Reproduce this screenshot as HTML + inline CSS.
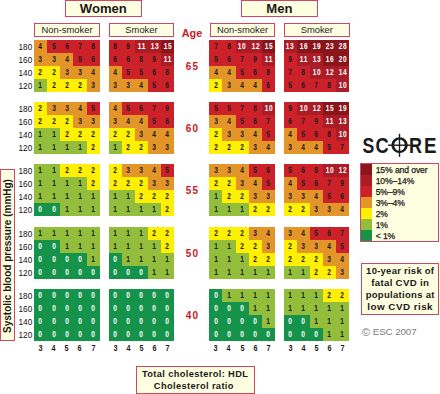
<!DOCTYPE html>
<html><head><meta charset="utf-8"><style>
*{margin:0;padding:0;box-sizing:border-box}
html,body{width:440px;height:394px;overflow:hidden;background:#fff}
body{position:relative;font-family:"Liberation Sans",sans-serif;color:#1a1a1a}
.box{position:absolute;border:1.4px solid #d0466a;background:#fefee0;text-align:center;white-space:nowrap}
.g{position:absolute;width:65.3px;height:52px}
.g i{position:absolute;width:13.06px;height:13px;font-style:normal;font-weight:bold;font-size:8.2px;padding-right:0;line-height:14.4px;text-align:center;color:#1a1a1a}
.g b{display:inline-block;transform:scaleX(0.8);letter-spacing:0.8px;padding-left:0.8px}
.g i.w{padding-right:0}
i.c0,i.c10,i.c15{color:#fff}
.c0{background:#15934a;}
.c1{background:#92be3c;}
.c2{background:#fef000;}
.c3{background:#e39529;}
.c5{background:#cc2129;}
.c10{background:#aa1d26;}
.c15{background:#8a161c;}
.age{position:absolute;left:174px;width:36px;text-align:center;color:#cc1824;font-weight:bold;font-size:10px;letter-spacing:1.2px;padding-left:1.2px;line-height:13px}
.rl{position:absolute;left:12px;width:20.5px;text-align:right;font-size:8.2px;letter-spacing:0.15px;line-height:13px;color:#111}
.xl{position:absolute;top:343.4px;width:13.06px;text-align:center;font-weight:bold;font-size:8.8px;line-height:10px;color:#1c1c1c;transform:scaleX(0.82)}
.hd{font-weight:bold;font-size:13.1px;line-height:14.5px;padding-top:0.8px}
.sh{font-size:9.4px;line-height:11.8px;color:#222}
.lg{position:absolute;left:360px;top:163px;width:78.5px;height:78.5px}
.lg .sw{position:absolute;left:-0.4px;width:11.1px;height:10.95px;margin-top:-0.5px}
.lg .t{position:absolute;left:14.7px;margin-top:0.6px;font-size:8.6px;letter-spacing:-0.1px;font-weight:normal;color:#1a1a1a;-webkit-text-stroke:0.25px #1a1a1a;line-height:10.95px;text-align:left;white-space:nowrap}
</style></head><body>
<div class="box hd" style="left:64.5px;top:0px;width:77.7px;height:16.8px">Women</div>
<div class="box hd" style="left:240.5px;top:0px;width:77.7px;height:16.8px">Men</div>
<div class="box sh" style="left:34px;top:22.9px;width:66px;height:14px">Non-smoker</div>
<div class="box sh" style="left:108.7px;top:22.9px;width:65.6px;height:14px">Smoker</div>
<div class="box sh" style="left:209.6px;top:22.9px;width:65.8px;height:14px">Non-smoker</div>
<div class="box sh" style="left:283.8px;top:22.9px;width:66px;height:14px">Smoker</div>
<div class="age" style="top:26.5px;font-size:10.9px;letter-spacing:0;padding-left:0">Age</div>
<div class="g" style="left:33.9px;top:39.8px;width:65.9px">
<i class="c3" style="left:0.00px;top:0.00px;width:13.20px"><b>4</b></i>
<i class="c5" style="left:13.18px;top:0.00px;width:13.20px"><b>5</b></i>
<i class="c5" style="left:26.36px;top:0.00px;width:13.20px"><b>6</b></i>
<i class="c5" style="left:39.54px;top:0.00px;width:13.20px"><b>7</b></i>
<i class="c5" style="left:52.72px;top:0.00px;width:13.20px"><b>8</b></i>
<i class="c3" style="left:0.00px;top:13.00px;width:13.20px"><b>3</b></i>
<i class="c3" style="left:13.18px;top:13.00px;width:13.20px"><b>3</b></i>
<i class="c3" style="left:26.36px;top:13.00px;width:13.20px"><b>4</b></i>
<i class="c5" style="left:39.54px;top:13.00px;width:13.20px"><b>5</b></i>
<i class="c5" style="left:52.72px;top:13.00px;width:13.20px"><b>6</b></i>
<i class="c2" style="left:0.00px;top:26.00px;width:13.20px"><b>2</b></i>
<i class="c2" style="left:13.18px;top:26.00px;width:13.20px"><b>2</b></i>
<i class="c3" style="left:26.36px;top:26.00px;width:13.20px"><b>3</b></i>
<i class="c3" style="left:39.54px;top:26.00px;width:13.20px"><b>3</b></i>
<i class="c3" style="left:52.72px;top:26.00px;width:13.20px"><b>4</b></i>
<i class="c1" style="left:0.00px;top:39.00px;width:13.20px"><b>1</b></i>
<i class="c2" style="left:13.18px;top:39.00px;width:13.20px"><b>2</b></i>
<i class="c2" style="left:26.36px;top:39.00px;width:13.20px"><b>2</b></i>
<i class="c2" style="left:39.54px;top:39.00px;width:13.20px"><b>2</b></i>
<i class="c3" style="left:52.72px;top:39.00px;width:13.20px"><b>3</b></i>
</div>
<div class="g" style="left:108.6px;top:39.8px;width:65.5px">
<i class="c5" style="left:0.00px;top:0.00px;width:13.12px"><b>8</b></i>
<i class="c5" style="left:13.10px;top:0.00px;width:13.12px"><b>9</b></i>
<i class="c10 w" style="left:26.20px;top:0.00px;width:13.12px"><b>11</b></i>
<i class="c10 w" style="left:39.30px;top:0.00px;width:13.12px"><b>13</b></i>
<i class="c15 w" style="left:52.40px;top:0.00px;width:13.12px"><b>15</b></i>
<i class="c5" style="left:0.00px;top:13.00px;width:13.12px"><b>6</b></i>
<i class="c5" style="left:13.10px;top:13.00px;width:13.12px"><b>6</b></i>
<i class="c5" style="left:26.20px;top:13.00px;width:13.12px"><b>8</b></i>
<i class="c5" style="left:39.30px;top:13.00px;width:13.12px"><b>9</b></i>
<i class="c10 w" style="left:52.40px;top:13.00px;width:13.12px"><b>11</b></i>
<i class="c3" style="left:0.00px;top:26.00px;width:13.12px"><b>4</b></i>
<i class="c5" style="left:13.10px;top:26.00px;width:13.12px"><b>5</b></i>
<i class="c5" style="left:26.20px;top:26.00px;width:13.12px"><b>5</b></i>
<i class="c5" style="left:39.30px;top:26.00px;width:13.12px"><b>6</b></i>
<i class="c5" style="left:52.40px;top:26.00px;width:13.12px"><b>8</b></i>
<i class="c3" style="left:0.00px;top:39.00px;width:13.12px"><b>3</b></i>
<i class="c3" style="left:13.10px;top:39.00px;width:13.12px"><b>3</b></i>
<i class="c3" style="left:26.20px;top:39.00px;width:13.12px"><b>4</b></i>
<i class="c5" style="left:39.30px;top:39.00px;width:13.12px"><b>5</b></i>
<i class="c5" style="left:52.40px;top:39.00px;width:13.12px"><b>6</b></i>
</div>
<div class="g" style="left:209.3px;top:39.8px;width:65.7px">
<i class="c5" style="left:0.00px;top:0.00px;width:13.16px"><b>7</b></i>
<i class="c5" style="left:13.14px;top:0.00px;width:13.16px"><b>8</b></i>
<i class="c10 w" style="left:26.28px;top:0.00px;width:13.16px"><b>10</b></i>
<i class="c10 w" style="left:39.42px;top:0.00px;width:13.16px"><b>12</b></i>
<i class="c15 w" style="left:52.56px;top:0.00px;width:13.16px"><b>15</b></i>
<i class="c5" style="left:0.00px;top:13.00px;width:13.16px"><b>5</b></i>
<i class="c5" style="left:13.14px;top:13.00px;width:13.16px"><b>6</b></i>
<i class="c5" style="left:26.28px;top:13.00px;width:13.16px"><b>7</b></i>
<i class="c5" style="left:39.42px;top:13.00px;width:13.16px"><b>9</b></i>
<i class="c10 w" style="left:52.56px;top:13.00px;width:13.16px"><b>11</b></i>
<i class="c3" style="left:0.00px;top:26.00px;width:13.16px"><b>4</b></i>
<i class="c3" style="left:13.14px;top:26.00px;width:13.16px"><b>4</b></i>
<i class="c5" style="left:26.28px;top:26.00px;width:13.16px"><b>5</b></i>
<i class="c5" style="left:39.42px;top:26.00px;width:13.16px"><b>6</b></i>
<i class="c5" style="left:52.56px;top:26.00px;width:13.16px"><b>8</b></i>
<i class="c2" style="left:0.00px;top:39.00px;width:13.16px"><b>2</b></i>
<i class="c3" style="left:13.14px;top:39.00px;width:13.16px"><b>3</b></i>
<i class="c3" style="left:26.28px;top:39.00px;width:13.16px"><b>4</b></i>
<i class="c3" style="left:39.42px;top:39.00px;width:13.16px"><b>4</b></i>
<i class="c5" style="left:52.56px;top:39.00px;width:13.16px"><b>6</b></i>
</div>
<div class="g" style="left:283.7px;top:39.8px;width:65.4px">
<i class="c10 w" style="left:0.00px;top:0.00px;width:13.10px"><b>13</b></i>
<i class="c15 w" style="left:13.08px;top:0.00px;width:13.10px"><b>16</b></i>
<i class="c15 w" style="left:26.16px;top:0.00px;width:13.10px"><b>19</b></i>
<i class="c15 w" style="left:39.24px;top:0.00px;width:13.10px"><b>23</b></i>
<i class="c15 w" style="left:52.32px;top:0.00px;width:13.10px"><b>28</b></i>
<i class="c5" style="left:0.00px;top:13.00px;width:13.10px"><b>9</b></i>
<i class="c10 w" style="left:13.08px;top:13.00px;width:13.10px"><b>11</b></i>
<i class="c10 w" style="left:26.16px;top:13.00px;width:13.10px"><b>13</b></i>
<i class="c15 w" style="left:39.24px;top:13.00px;width:13.10px"><b>16</b></i>
<i class="c15 w" style="left:52.32px;top:13.00px;width:13.10px"><b>20</b></i>
<i class="c5" style="left:0.00px;top:26.00px;width:13.10px"><b>7</b></i>
<i class="c5" style="left:13.08px;top:26.00px;width:13.10px"><b>8</b></i>
<i class="c10 w" style="left:26.16px;top:26.00px;width:13.10px"><b>10</b></i>
<i class="c10 w" style="left:39.24px;top:26.00px;width:13.10px"><b>12</b></i>
<i class="c10 w" style="left:52.32px;top:26.00px;width:13.10px"><b>14</b></i>
<i class="c5" style="left:0.00px;top:39.00px;width:13.10px"><b>5</b></i>
<i class="c5" style="left:13.08px;top:39.00px;width:13.10px"><b>6</b></i>
<i class="c5" style="left:26.16px;top:39.00px;width:13.10px"><b>7</b></i>
<i class="c5" style="left:39.24px;top:39.00px;width:13.10px"><b>8</b></i>
<i class="c10 w" style="left:52.32px;top:39.00px;width:13.10px"><b>10</b></i>
</div>
<div class="age" style="top:59.8px">65</div>
<div class="rl" style="top:40.80px">180</div>
<div class="rl" style="top:53.80px">160</div>
<div class="rl" style="top:66.80px">140</div>
<div class="rl" style="top:79.80px">120</div>
<div class="g" style="left:33.9px;top:102.1px;width:65.9px">
<i class="c2" style="left:0.00px;top:0.00px;width:13.20px"><b>2</b></i>
<i class="c3" style="left:13.18px;top:0.00px;width:13.20px"><b>3</b></i>
<i class="c3" style="left:26.36px;top:0.00px;width:13.20px"><b>3</b></i>
<i class="c3" style="left:39.54px;top:0.00px;width:13.20px"><b>4</b></i>
<i class="c5" style="left:52.72px;top:0.00px;width:13.20px"><b>5</b></i>
<i class="c2" style="left:0.00px;top:13.00px;width:13.20px"><b>2</b></i>
<i class="c2" style="left:13.18px;top:13.00px;width:13.20px"><b>2</b></i>
<i class="c2" style="left:26.36px;top:13.00px;width:13.20px"><b>2</b></i>
<i class="c3" style="left:39.54px;top:13.00px;width:13.20px"><b>3</b></i>
<i class="c3" style="left:52.72px;top:13.00px;width:13.20px"><b>3</b></i>
<i class="c1" style="left:0.00px;top:26.00px;width:13.20px"><b>1</b></i>
<i class="c1" style="left:13.18px;top:26.00px;width:13.20px"><b>1</b></i>
<i class="c2" style="left:26.36px;top:26.00px;width:13.20px"><b>2</b></i>
<i class="c2" style="left:39.54px;top:26.00px;width:13.20px"><b>2</b></i>
<i class="c2" style="left:52.72px;top:26.00px;width:13.20px"><b>2</b></i>
<i class="c1" style="left:0.00px;top:39.00px;width:13.20px"><b>1</b></i>
<i class="c1" style="left:13.18px;top:39.00px;width:13.20px"><b>1</b></i>
<i class="c1" style="left:26.36px;top:39.00px;width:13.20px"><b>1</b></i>
<i class="c1" style="left:39.54px;top:39.00px;width:13.20px"><b>1</b></i>
<i class="c2" style="left:52.72px;top:39.00px;width:13.20px"><b>2</b></i>
</div>
<div class="g" style="left:108.6px;top:102.1px;width:65.5px">
<i class="c3" style="left:0.00px;top:0.00px;width:13.12px"><b>4</b></i>
<i class="c5" style="left:13.10px;top:0.00px;width:13.12px"><b>5</b></i>
<i class="c5" style="left:26.20px;top:0.00px;width:13.12px"><b>6</b></i>
<i class="c5" style="left:39.30px;top:0.00px;width:13.12px"><b>7</b></i>
<i class="c5" style="left:52.40px;top:0.00px;width:13.12px"><b>9</b></i>
<i class="c3" style="left:0.00px;top:13.00px;width:13.12px"><b>3</b></i>
<i class="c3" style="left:13.10px;top:13.00px;width:13.12px"><b>4</b></i>
<i class="c3" style="left:26.20px;top:13.00px;width:13.12px"><b>4</b></i>
<i class="c5" style="left:39.30px;top:13.00px;width:13.12px"><b>5</b></i>
<i class="c5" style="left:52.40px;top:13.00px;width:13.12px"><b>6</b></i>
<i class="c2" style="left:0.00px;top:26.00px;width:13.12px"><b>2</b></i>
<i class="c2" style="left:13.10px;top:26.00px;width:13.12px"><b>2</b></i>
<i class="c3" style="left:26.20px;top:26.00px;width:13.12px"><b>3</b></i>
<i class="c3" style="left:39.30px;top:26.00px;width:13.12px"><b>4</b></i>
<i class="c3" style="left:52.40px;top:26.00px;width:13.12px"><b>4</b></i>
<i class="c1" style="left:0.00px;top:39.00px;width:13.12px"><b>1</b></i>
<i class="c2" style="left:13.10px;top:39.00px;width:13.12px"><b>2</b></i>
<i class="c2" style="left:26.20px;top:39.00px;width:13.12px"><b>2</b></i>
<i class="c3" style="left:39.30px;top:39.00px;width:13.12px"><b>3</b></i>
<i class="c3" style="left:52.40px;top:39.00px;width:13.12px"><b>3</b></i>
</div>
<div class="g" style="left:209.3px;top:102.1px;width:65.7px">
<i class="c5" style="left:0.00px;top:0.00px;width:13.16px"><b>5</b></i>
<i class="c5" style="left:13.14px;top:0.00px;width:13.16px"><b>5</b></i>
<i class="c5" style="left:26.28px;top:0.00px;width:13.16px"><b>7</b></i>
<i class="c5" style="left:39.42px;top:0.00px;width:13.16px"><b>8</b></i>
<i class="c10 w" style="left:52.56px;top:0.00px;width:13.16px"><b>10</b></i>
<i class="c3" style="left:0.00px;top:13.00px;width:13.16px"><b>3</b></i>
<i class="c3" style="left:13.14px;top:13.00px;width:13.16px"><b>4</b></i>
<i class="c5" style="left:26.28px;top:13.00px;width:13.16px"><b>5</b></i>
<i class="c5" style="left:39.42px;top:13.00px;width:13.16px"><b>6</b></i>
<i class="c5" style="left:52.56px;top:13.00px;width:13.16px"><b>7</b></i>
<i class="c2" style="left:0.00px;top:26.00px;width:13.16px"><b>2</b></i>
<i class="c3" style="left:13.14px;top:26.00px;width:13.16px"><b>3</b></i>
<i class="c3" style="left:26.28px;top:26.00px;width:13.16px"><b>3</b></i>
<i class="c3" style="left:39.42px;top:26.00px;width:13.16px"><b>4</b></i>
<i class="c5" style="left:52.56px;top:26.00px;width:13.16px"><b>5</b></i>
<i class="c2" style="left:0.00px;top:39.00px;width:13.16px"><b>2</b></i>
<i class="c2" style="left:13.14px;top:39.00px;width:13.16px"><b>2</b></i>
<i class="c2" style="left:26.28px;top:39.00px;width:13.16px"><b>2</b></i>
<i class="c3" style="left:39.42px;top:39.00px;width:13.16px"><b>3</b></i>
<i class="c3" style="left:52.56px;top:39.00px;width:13.16px"><b>4</b></i>
</div>
<div class="g" style="left:283.7px;top:102.1px;width:65.4px">
<i class="c5" style="left:0.00px;top:0.00px;width:13.10px"><b>9</b></i>
<i class="c10 w" style="left:13.08px;top:0.00px;width:13.10px"><b>10</b></i>
<i class="c10 w" style="left:26.16px;top:0.00px;width:13.10px"><b>12</b></i>
<i class="c15 w" style="left:39.24px;top:0.00px;width:13.10px"><b>15</b></i>
<i class="c15 w" style="left:52.32px;top:0.00px;width:13.10px"><b>19</b></i>
<i class="c5" style="left:0.00px;top:13.00px;width:13.10px"><b>6</b></i>
<i class="c5" style="left:13.08px;top:13.00px;width:13.10px"><b>7</b></i>
<i class="c5" style="left:26.16px;top:13.00px;width:13.10px"><b>9</b></i>
<i class="c10 w" style="left:39.24px;top:13.00px;width:13.10px"><b>11</b></i>
<i class="c10 w" style="left:52.32px;top:13.00px;width:13.10px"><b>13</b></i>
<i class="c3" style="left:0.00px;top:26.00px;width:13.10px"><b>4</b></i>
<i class="c5" style="left:13.08px;top:26.00px;width:13.10px"><b>5</b></i>
<i class="c5" style="left:26.16px;top:26.00px;width:13.10px"><b>6</b></i>
<i class="c5" style="left:39.24px;top:26.00px;width:13.10px"><b>8</b></i>
<i class="c10 w" style="left:52.32px;top:26.00px;width:13.10px"><b>10</b></i>
<i class="c3" style="left:0.00px;top:39.00px;width:13.10px"><b>3</b></i>
<i class="c3" style="left:13.08px;top:39.00px;width:13.10px"><b>4</b></i>
<i class="c3" style="left:26.16px;top:39.00px;width:13.10px"><b>4</b></i>
<i class="c5" style="left:39.24px;top:39.00px;width:13.10px"><b>5</b></i>
<i class="c5" style="left:52.32px;top:39.00px;width:13.10px"><b>7</b></i>
</div>
<div class="age" style="top:122.1px">60</div>
<div class="rl" style="top:103.10px">180</div>
<div class="rl" style="top:116.10px">160</div>
<div class="rl" style="top:129.10px">140</div>
<div class="rl" style="top:142.10px">120</div>
<div class="g" style="left:33.9px;top:164.4px;width:65.9px">
<i class="c1" style="left:0.00px;top:0.00px;width:13.20px"><b>1</b></i>
<i class="c1" style="left:13.18px;top:0.00px;width:13.20px"><b>1</b></i>
<i class="c2" style="left:26.36px;top:0.00px;width:13.20px"><b>2</b></i>
<i class="c2" style="left:39.54px;top:0.00px;width:13.20px"><b>2</b></i>
<i class="c2" style="left:52.72px;top:0.00px;width:13.20px"><b>2</b></i>
<i class="c1" style="left:0.00px;top:13.00px;width:13.20px"><b>1</b></i>
<i class="c1" style="left:13.18px;top:13.00px;width:13.20px"><b>1</b></i>
<i class="c1" style="left:26.36px;top:13.00px;width:13.20px"><b>1</b></i>
<i class="c1" style="left:39.54px;top:13.00px;width:13.20px"><b>1</b></i>
<i class="c2" style="left:52.72px;top:13.00px;width:13.20px"><b>2</b></i>
<i class="c1" style="left:0.00px;top:26.00px;width:13.20px"><b>1</b></i>
<i class="c1" style="left:13.18px;top:26.00px;width:13.20px"><b>1</b></i>
<i class="c1" style="left:26.36px;top:26.00px;width:13.20px"><b>1</b></i>
<i class="c1" style="left:39.54px;top:26.00px;width:13.20px"><b>1</b></i>
<i class="c1" style="left:52.72px;top:26.00px;width:13.20px"><b>1</b></i>
<i class="c0" style="left:0.00px;top:39.00px;width:13.20px"><b>0</b></i>
<i class="c0" style="left:13.18px;top:39.00px;width:13.20px"><b>0</b></i>
<i class="c1" style="left:26.36px;top:39.00px;width:13.20px"><b>1</b></i>
<i class="c1" style="left:39.54px;top:39.00px;width:13.20px"><b>1</b></i>
<i class="c1" style="left:52.72px;top:39.00px;width:13.20px"><b>1</b></i>
</div>
<div class="g" style="left:108.6px;top:164.4px;width:65.5px">
<i class="c2" style="left:0.00px;top:0.00px;width:13.12px"><b>2</b></i>
<i class="c3" style="left:13.10px;top:0.00px;width:13.12px"><b>3</b></i>
<i class="c3" style="left:26.20px;top:0.00px;width:13.12px"><b>3</b></i>
<i class="c3" style="left:39.30px;top:0.00px;width:13.12px"><b>4</b></i>
<i class="c5" style="left:52.40px;top:0.00px;width:13.12px"><b>5</b></i>
<i class="c2" style="left:0.00px;top:13.00px;width:13.12px"><b>2</b></i>
<i class="c2" style="left:13.10px;top:13.00px;width:13.12px"><b>2</b></i>
<i class="c2" style="left:26.20px;top:13.00px;width:13.12px"><b>2</b></i>
<i class="c3" style="left:39.30px;top:13.00px;width:13.12px"><b>3</b></i>
<i class="c3" style="left:52.40px;top:13.00px;width:13.12px"><b>3</b></i>
<i class="c1" style="left:0.00px;top:26.00px;width:13.12px"><b>1</b></i>
<i class="c1" style="left:13.10px;top:26.00px;width:13.12px"><b>1</b></i>
<i class="c2" style="left:26.20px;top:26.00px;width:13.12px"><b>2</b></i>
<i class="c2" style="left:39.30px;top:26.00px;width:13.12px"><b>2</b></i>
<i class="c2" style="left:52.40px;top:26.00px;width:13.12px"><b>2</b></i>
<i class="c1" style="left:0.00px;top:39.00px;width:13.12px"><b>1</b></i>
<i class="c1" style="left:13.10px;top:39.00px;width:13.12px"><b>1</b></i>
<i class="c1" style="left:26.20px;top:39.00px;width:13.12px"><b>1</b></i>
<i class="c1" style="left:39.30px;top:39.00px;width:13.12px"><b>1</b></i>
<i class="c2" style="left:52.40px;top:39.00px;width:13.12px"><b>2</b></i>
</div>
<div class="g" style="left:209.3px;top:164.4px;width:65.7px">
<i class="c3" style="left:0.00px;top:0.00px;width:13.16px"><b>3</b></i>
<i class="c3" style="left:13.14px;top:0.00px;width:13.16px"><b>3</b></i>
<i class="c3" style="left:26.28px;top:0.00px;width:13.16px"><b>4</b></i>
<i class="c5" style="left:39.42px;top:0.00px;width:13.16px"><b>5</b></i>
<i class="c5" style="left:52.56px;top:0.00px;width:13.16px"><b>6</b></i>
<i class="c2" style="left:0.00px;top:13.00px;width:13.16px"><b>2</b></i>
<i class="c2" style="left:13.14px;top:13.00px;width:13.16px"><b>2</b></i>
<i class="c3" style="left:26.28px;top:13.00px;width:13.16px"><b>3</b></i>
<i class="c3" style="left:39.42px;top:13.00px;width:13.16px"><b>4</b></i>
<i class="c5" style="left:52.56px;top:13.00px;width:13.16px"><b>5</b></i>
<i class="c1" style="left:0.00px;top:26.00px;width:13.16px"><b>1</b></i>
<i class="c2" style="left:13.14px;top:26.00px;width:13.16px"><b>2</b></i>
<i class="c2" style="left:26.28px;top:26.00px;width:13.16px"><b>2</b></i>
<i class="c3" style="left:39.42px;top:26.00px;width:13.16px"><b>3</b></i>
<i class="c3" style="left:52.56px;top:26.00px;width:13.16px"><b>3</b></i>
<i class="c1" style="left:0.00px;top:39.00px;width:13.16px"><b>1</b></i>
<i class="c1" style="left:13.14px;top:39.00px;width:13.16px"><b>1</b></i>
<i class="c1" style="left:26.28px;top:39.00px;width:13.16px"><b>1</b></i>
<i class="c2" style="left:39.42px;top:39.00px;width:13.16px"><b>2</b></i>
<i class="c2" style="left:52.56px;top:39.00px;width:13.16px"><b>2</b></i>
</div>
<div class="g" style="left:283.7px;top:164.4px;width:65.4px">
<i class="c5" style="left:0.00px;top:0.00px;width:13.10px"><b>5</b></i>
<i class="c5" style="left:13.08px;top:0.00px;width:13.10px"><b>6</b></i>
<i class="c5" style="left:26.16px;top:0.00px;width:13.10px"><b>8</b></i>
<i class="c10 w" style="left:39.24px;top:0.00px;width:13.10px"><b>10</b></i>
<i class="c10 w" style="left:52.32px;top:0.00px;width:13.10px"><b>12</b></i>
<i class="c3" style="left:0.00px;top:13.00px;width:13.10px"><b>4</b></i>
<i class="c5" style="left:13.08px;top:13.00px;width:13.10px"><b>5</b></i>
<i class="c5" style="left:26.16px;top:13.00px;width:13.10px"><b>6</b></i>
<i class="c5" style="left:39.24px;top:13.00px;width:13.10px"><b>7</b></i>
<i class="c5" style="left:52.32px;top:13.00px;width:13.10px"><b>9</b></i>
<i class="c3" style="left:0.00px;top:26.00px;width:13.10px"><b>3</b></i>
<i class="c3" style="left:13.08px;top:26.00px;width:13.10px"><b>3</b></i>
<i class="c3" style="left:26.16px;top:26.00px;width:13.10px"><b>4</b></i>
<i class="c5" style="left:39.24px;top:26.00px;width:13.10px"><b>5</b></i>
<i class="c5" style="left:52.32px;top:26.00px;width:13.10px"><b>6</b></i>
<i class="c2" style="left:0.00px;top:39.00px;width:13.10px"><b>2</b></i>
<i class="c2" style="left:13.08px;top:39.00px;width:13.10px"><b>2</b></i>
<i class="c3" style="left:26.16px;top:39.00px;width:13.10px"><b>3</b></i>
<i class="c3" style="left:39.24px;top:39.00px;width:13.10px"><b>3</b></i>
<i class="c3" style="left:52.32px;top:39.00px;width:13.10px"><b>4</b></i>
</div>
<div class="age" style="top:184.4px">55</div>
<div class="rl" style="top:165.40px">180</div>
<div class="rl" style="top:178.40px">160</div>
<div class="rl" style="top:191.40px">140</div>
<div class="rl" style="top:204.40px">120</div>
<div class="g" style="left:33.9px;top:227.1px;width:65.9px">
<i class="c1" style="left:0.00px;top:0.00px;width:13.20px"><b>1</b></i>
<i class="c1" style="left:13.18px;top:0.00px;width:13.20px"><b>1</b></i>
<i class="c1" style="left:26.36px;top:0.00px;width:13.20px"><b>1</b></i>
<i class="c1" style="left:39.54px;top:0.00px;width:13.20px"><b>1</b></i>
<i class="c1" style="left:52.72px;top:0.00px;width:13.20px"><b>1</b></i>
<i class="c0" style="left:0.00px;top:13.00px;width:13.20px"><b>0</b></i>
<i class="c0" style="left:13.18px;top:13.00px;width:13.20px"><b>0</b></i>
<i class="c1" style="left:26.36px;top:13.00px;width:13.20px"><b>1</b></i>
<i class="c1" style="left:39.54px;top:13.00px;width:13.20px"><b>1</b></i>
<i class="c1" style="left:52.72px;top:13.00px;width:13.20px"><b>1</b></i>
<i class="c0" style="left:0.00px;top:26.00px;width:13.20px"><b>0</b></i>
<i class="c0" style="left:13.18px;top:26.00px;width:13.20px"><b>0</b></i>
<i class="c0" style="left:26.36px;top:26.00px;width:13.20px"><b>0</b></i>
<i class="c0" style="left:39.54px;top:26.00px;width:13.20px"><b>0</b></i>
<i class="c1" style="left:52.72px;top:26.00px;width:13.20px"><b>1</b></i>
<i class="c0" style="left:0.00px;top:39.00px;width:13.20px"><b>0</b></i>
<i class="c0" style="left:13.18px;top:39.00px;width:13.20px"><b>0</b></i>
<i class="c0" style="left:26.36px;top:39.00px;width:13.20px"><b>0</b></i>
<i class="c0" style="left:39.54px;top:39.00px;width:13.20px"><b>0</b></i>
<i class="c0" style="left:52.72px;top:39.00px;width:13.20px"><b>0</b></i>
</div>
<div class="g" style="left:108.6px;top:227.1px;width:65.5px">
<i class="c1" style="left:0.00px;top:0.00px;width:13.12px"><b>1</b></i>
<i class="c1" style="left:13.10px;top:0.00px;width:13.12px"><b>1</b></i>
<i class="c1" style="left:26.20px;top:0.00px;width:13.12px"><b>1</b></i>
<i class="c2" style="left:39.30px;top:0.00px;width:13.12px"><b>2</b></i>
<i class="c2" style="left:52.40px;top:0.00px;width:13.12px"><b>2</b></i>
<i class="c1" style="left:0.00px;top:13.00px;width:13.12px"><b>1</b></i>
<i class="c1" style="left:13.10px;top:13.00px;width:13.12px"><b>1</b></i>
<i class="c1" style="left:26.20px;top:13.00px;width:13.12px"><b>1</b></i>
<i class="c1" style="left:39.30px;top:13.00px;width:13.12px"><b>1</b></i>
<i class="c2" style="left:52.40px;top:13.00px;width:13.12px"><b>2</b></i>
<i class="c0" style="left:0.00px;top:26.00px;width:13.12px"><b>0</b></i>
<i class="c1" style="left:13.10px;top:26.00px;width:13.12px"><b>1</b></i>
<i class="c1" style="left:26.20px;top:26.00px;width:13.12px"><b>1</b></i>
<i class="c1" style="left:39.30px;top:26.00px;width:13.12px"><b>1</b></i>
<i class="c1" style="left:52.40px;top:26.00px;width:13.12px"><b>1</b></i>
<i class="c0" style="left:0.00px;top:39.00px;width:13.12px"><b>0</b></i>
<i class="c0" style="left:13.10px;top:39.00px;width:13.12px"><b>0</b></i>
<i class="c0" style="left:26.20px;top:39.00px;width:13.12px"><b>0</b></i>
<i class="c1" style="left:39.30px;top:39.00px;width:13.12px"><b>1</b></i>
<i class="c1" style="left:52.40px;top:39.00px;width:13.12px"><b>1</b></i>
</div>
<div class="g" style="left:209.3px;top:227.1px;width:65.7px">
<i class="c2" style="left:0.00px;top:0.00px;width:13.16px"><b>2</b></i>
<i class="c2" style="left:13.14px;top:0.00px;width:13.16px"><b>2</b></i>
<i class="c2" style="left:26.28px;top:0.00px;width:13.16px"><b>2</b></i>
<i class="c3" style="left:39.42px;top:0.00px;width:13.16px"><b>3</b></i>
<i class="c3" style="left:52.56px;top:0.00px;width:13.16px"><b>4</b></i>
<i class="c1" style="left:0.00px;top:13.00px;width:13.16px"><b>1</b></i>
<i class="c1" style="left:13.14px;top:13.00px;width:13.16px"><b>1</b></i>
<i class="c2" style="left:26.28px;top:13.00px;width:13.16px"><b>2</b></i>
<i class="c2" style="left:39.42px;top:13.00px;width:13.16px"><b>2</b></i>
<i class="c3" style="left:52.56px;top:13.00px;width:13.16px"><b>3</b></i>
<i class="c1" style="left:0.00px;top:26.00px;width:13.16px"><b>1</b></i>
<i class="c1" style="left:13.14px;top:26.00px;width:13.16px"><b>1</b></i>
<i class="c1" style="left:26.28px;top:26.00px;width:13.16px"><b>1</b></i>
<i class="c2" style="left:39.42px;top:26.00px;width:13.16px"><b>2</b></i>
<i class="c2" style="left:52.56px;top:26.00px;width:13.16px"><b>2</b></i>
<i class="c1" style="left:0.00px;top:39.00px;width:13.16px"><b>1</b></i>
<i class="c1" style="left:13.14px;top:39.00px;width:13.16px"><b>1</b></i>
<i class="c1" style="left:26.28px;top:39.00px;width:13.16px"><b>1</b></i>
<i class="c1" style="left:39.42px;top:39.00px;width:13.16px"><b>1</b></i>
<i class="c1" style="left:52.56px;top:39.00px;width:13.16px"><b>1</b></i>
</div>
<div class="g" style="left:283.7px;top:227.1px;width:65.4px">
<i class="c3" style="left:0.00px;top:0.00px;width:13.10px"><b>3</b></i>
<i class="c3" style="left:13.08px;top:0.00px;width:13.10px"><b>4</b></i>
<i class="c5" style="left:26.16px;top:0.00px;width:13.10px"><b>5</b></i>
<i class="c5" style="left:39.24px;top:0.00px;width:13.10px"><b>6</b></i>
<i class="c5" style="left:52.32px;top:0.00px;width:13.10px"><b>7</b></i>
<i class="c2" style="left:0.00px;top:13.00px;width:13.10px"><b>2</b></i>
<i class="c3" style="left:13.08px;top:13.00px;width:13.10px"><b>3</b></i>
<i class="c3" style="left:26.16px;top:13.00px;width:13.10px"><b>3</b></i>
<i class="c3" style="left:39.24px;top:13.00px;width:13.10px"><b>4</b></i>
<i class="c5" style="left:52.32px;top:13.00px;width:13.10px"><b>5</b></i>
<i class="c2" style="left:0.00px;top:26.00px;width:13.10px"><b>2</b></i>
<i class="c2" style="left:13.08px;top:26.00px;width:13.10px"><b>2</b></i>
<i class="c2" style="left:26.16px;top:26.00px;width:13.10px"><b>2</b></i>
<i class="c3" style="left:39.24px;top:26.00px;width:13.10px"><b>3</b></i>
<i class="c3" style="left:52.32px;top:26.00px;width:13.10px"><b>4</b></i>
<i class="c1" style="left:0.00px;top:39.00px;width:13.10px"><b>1</b></i>
<i class="c1" style="left:13.08px;top:39.00px;width:13.10px"><b>1</b></i>
<i class="c2" style="left:26.16px;top:39.00px;width:13.10px"><b>2</b></i>
<i class="c2" style="left:39.24px;top:39.00px;width:13.10px"><b>2</b></i>
<i class="c3" style="left:52.32px;top:39.00px;width:13.10px"><b>3</b></i>
</div>
<div class="age" style="top:247.1px">50</div>
<div class="rl" style="top:228.10px">180</div>
<div class="rl" style="top:241.10px">160</div>
<div class="rl" style="top:254.10px">140</div>
<div class="rl" style="top:267.10px">120</div>
<div class="g" style="left:33.9px;top:289.2px;width:65.9px">
<i class="c0" style="left:0.00px;top:0.00px;width:13.20px"><b>0</b></i>
<i class="c0" style="left:13.18px;top:0.00px;width:13.20px"><b>0</b></i>
<i class="c0" style="left:26.36px;top:0.00px;width:13.20px"><b>0</b></i>
<i class="c0" style="left:39.54px;top:0.00px;width:13.20px"><b>0</b></i>
<i class="c0" style="left:52.72px;top:0.00px;width:13.20px"><b>0</b></i>
<i class="c0" style="left:0.00px;top:13.00px;width:13.20px"><b>0</b></i>
<i class="c0" style="left:13.18px;top:13.00px;width:13.20px"><b>0</b></i>
<i class="c0" style="left:26.36px;top:13.00px;width:13.20px"><b>0</b></i>
<i class="c0" style="left:39.54px;top:13.00px;width:13.20px"><b>0</b></i>
<i class="c0" style="left:52.72px;top:13.00px;width:13.20px"><b>0</b></i>
<i class="c0" style="left:0.00px;top:26.00px;width:13.20px"><b>0</b></i>
<i class="c0" style="left:13.18px;top:26.00px;width:13.20px"><b>0</b></i>
<i class="c0" style="left:26.36px;top:26.00px;width:13.20px"><b>0</b></i>
<i class="c0" style="left:39.54px;top:26.00px;width:13.20px"><b>0</b></i>
<i class="c0" style="left:52.72px;top:26.00px;width:13.20px"><b>0</b></i>
<i class="c0" style="left:0.00px;top:39.00px;width:13.20px"><b>0</b></i>
<i class="c0" style="left:13.18px;top:39.00px;width:13.20px"><b>0</b></i>
<i class="c0" style="left:26.36px;top:39.00px;width:13.20px"><b>0</b></i>
<i class="c0" style="left:39.54px;top:39.00px;width:13.20px"><b>0</b></i>
<i class="c0" style="left:52.72px;top:39.00px;width:13.20px"><b>0</b></i>
</div>
<div class="g" style="left:108.6px;top:289.2px;width:65.5px">
<i class="c0" style="left:0.00px;top:0.00px;width:13.12px"><b>0</b></i>
<i class="c0" style="left:13.10px;top:0.00px;width:13.12px"><b>0</b></i>
<i class="c0" style="left:26.20px;top:0.00px;width:13.12px"><b>0</b></i>
<i class="c0" style="left:39.30px;top:0.00px;width:13.12px"><b>0</b></i>
<i class="c0" style="left:52.40px;top:0.00px;width:13.12px"><b>0</b></i>
<i class="c0" style="left:0.00px;top:13.00px;width:13.12px"><b>0</b></i>
<i class="c0" style="left:13.10px;top:13.00px;width:13.12px"><b>0</b></i>
<i class="c0" style="left:26.20px;top:13.00px;width:13.12px"><b>0</b></i>
<i class="c0" style="left:39.30px;top:13.00px;width:13.12px"><b>0</b></i>
<i class="c0" style="left:52.40px;top:13.00px;width:13.12px"><b>0</b></i>
<i class="c0" style="left:0.00px;top:26.00px;width:13.12px"><b>0</b></i>
<i class="c0" style="left:13.10px;top:26.00px;width:13.12px"><b>0</b></i>
<i class="c0" style="left:26.20px;top:26.00px;width:13.12px"><b>0</b></i>
<i class="c0" style="left:39.30px;top:26.00px;width:13.12px"><b>0</b></i>
<i class="c0" style="left:52.40px;top:26.00px;width:13.12px"><b>0</b></i>
<i class="c0" style="left:0.00px;top:39.00px;width:13.12px"><b>0</b></i>
<i class="c0" style="left:13.10px;top:39.00px;width:13.12px"><b>0</b></i>
<i class="c0" style="left:26.20px;top:39.00px;width:13.12px"><b>0</b></i>
<i class="c0" style="left:39.30px;top:39.00px;width:13.12px"><b>0</b></i>
<i class="c0" style="left:52.40px;top:39.00px;width:13.12px"><b>0</b></i>
</div>
<div class="g" style="left:209.3px;top:289.2px;width:65.7px">
<i class="c0" style="left:0.00px;top:0.00px;width:13.16px"><b>0</b></i>
<i class="c1" style="left:13.14px;top:0.00px;width:13.16px"><b>1</b></i>
<i class="c1" style="left:26.28px;top:0.00px;width:13.16px"><b>1</b></i>
<i class="c1" style="left:39.42px;top:0.00px;width:13.16px"><b>1</b></i>
<i class="c1" style="left:52.56px;top:0.00px;width:13.16px"><b>1</b></i>
<i class="c0" style="left:0.00px;top:13.00px;width:13.16px"><b>0</b></i>
<i class="c0" style="left:13.14px;top:13.00px;width:13.16px"><b>0</b></i>
<i class="c0" style="left:26.28px;top:13.00px;width:13.16px"><b>0</b></i>
<i class="c1" style="left:39.42px;top:13.00px;width:13.16px"><b>1</b></i>
<i class="c1" style="left:52.56px;top:13.00px;width:13.16px"><b>1</b></i>
<i class="c0" style="left:0.00px;top:26.00px;width:13.16px"><b>0</b></i>
<i class="c0" style="left:13.14px;top:26.00px;width:13.16px"><b>0</b></i>
<i class="c0" style="left:26.28px;top:26.00px;width:13.16px"><b>0</b></i>
<i class="c0" style="left:39.42px;top:26.00px;width:13.16px"><b>0</b></i>
<i class="c1" style="left:52.56px;top:26.00px;width:13.16px"><b>1</b></i>
<i class="c0" style="left:0.00px;top:39.00px;width:13.16px"><b>0</b></i>
<i class="c0" style="left:13.14px;top:39.00px;width:13.16px"><b>0</b></i>
<i class="c0" style="left:26.28px;top:39.00px;width:13.16px"><b>0</b></i>
<i class="c0" style="left:39.42px;top:39.00px;width:13.16px"><b>0</b></i>
<i class="c0" style="left:52.56px;top:39.00px;width:13.16px"><b>0</b></i>
</div>
<div class="g" style="left:283.7px;top:289.2px;width:65.4px">
<i class="c1" style="left:0.00px;top:0.00px;width:13.10px"><b>1</b></i>
<i class="c1" style="left:13.08px;top:0.00px;width:13.10px"><b>1</b></i>
<i class="c1" style="left:26.16px;top:0.00px;width:13.10px"><b>1</b></i>
<i class="c2" style="left:39.24px;top:0.00px;width:13.10px"><b>2</b></i>
<i class="c2" style="left:52.32px;top:0.00px;width:13.10px"><b>2</b></i>
<i class="c1" style="left:0.00px;top:13.00px;width:13.10px"><b>1</b></i>
<i class="c1" style="left:13.08px;top:13.00px;width:13.10px"><b>1</b></i>
<i class="c1" style="left:26.16px;top:13.00px;width:13.10px"><b>1</b></i>
<i class="c1" style="left:39.24px;top:13.00px;width:13.10px"><b>1</b></i>
<i class="c1" style="left:52.32px;top:13.00px;width:13.10px"><b>1</b></i>
<i class="c0" style="left:0.00px;top:26.00px;width:13.10px"><b>0</b></i>
<i class="c0" style="left:13.08px;top:26.00px;width:13.10px"><b>0</b></i>
<i class="c1" style="left:26.16px;top:26.00px;width:13.10px"><b>1</b></i>
<i class="c1" style="left:39.24px;top:26.00px;width:13.10px"><b>1</b></i>
<i class="c1" style="left:52.32px;top:26.00px;width:13.10px"><b>1</b></i>
<i class="c0" style="left:0.00px;top:39.00px;width:13.10px"><b>0</b></i>
<i class="c0" style="left:13.08px;top:39.00px;width:13.10px"><b>0</b></i>
<i class="c0" style="left:26.16px;top:39.00px;width:13.10px"><b>0</b></i>
<i class="c1" style="left:39.24px;top:39.00px;width:13.10px"><b>1</b></i>
<i class="c1" style="left:52.32px;top:39.00px;width:13.10px"><b>1</b></i>
</div>
<div class="age" style="top:309.2px">40</div>
<div class="rl" style="top:290.20px">180</div>
<div class="rl" style="top:303.20px">160</div>
<div class="rl" style="top:316.20px">140</div>
<div class="rl" style="top:329.20px">120</div>
<div class="xl" style="left:33.90px;width:13.18px">3</div>
<div class="xl" style="left:47.08px;width:13.18px">4</div>
<div class="xl" style="left:60.26px;width:13.18px">5</div>
<div class="xl" style="left:73.44px;width:13.18px">6</div>
<div class="xl" style="left:86.62px;width:13.18px">7</div>
<div class="xl" style="left:108.60px;width:13.10px">3</div>
<div class="xl" style="left:121.70px;width:13.10px">4</div>
<div class="xl" style="left:134.80px;width:13.10px">5</div>
<div class="xl" style="left:147.90px;width:13.10px">6</div>
<div class="xl" style="left:161.00px;width:13.10px">7</div>
<div class="xl" style="left:209.30px;width:13.14px">3</div>
<div class="xl" style="left:222.44px;width:13.14px">4</div>
<div class="xl" style="left:235.58px;width:13.14px">5</div>
<div class="xl" style="left:248.72px;width:13.14px">6</div>
<div class="xl" style="left:261.86px;width:13.14px">7</div>
<div class="xl" style="left:283.70px;width:13.08px">3</div>
<div class="xl" style="left:296.78px;width:13.08px">4</div>
<div class="xl" style="left:309.86px;width:13.08px">5</div>
<div class="xl" style="left:322.94px;width:13.08px">6</div>
<div class="xl" style="left:336.02px;width:13.08px">7</div>
<div class="box" style="left:0px;top:169px;width:14.6px;height:171.5px;border-left:1.6px solid #d24a6e"></div>
<div style="position:absolute;left:-77.7px;top:249.75px;width:172px;height:12px;transform:rotate(-90deg);text-align:center;font-weight:bold;font-size:10px;line-height:12px;white-space:nowrap">Systolic blood pressure (mmHg)</div>
<svg style="position:absolute;left:0;top:0" width="440" height="394">
 <g font-family="Liberation Sans" font-weight="bold" font-size="22.8" fill="#1a1a1a">
  <text x="362.6" y="153.2" textLength="11.8" lengthAdjust="spacingAndGlyphs">S</text>
  <text x="375.4" y="153.2" textLength="13.2" lengthAdjust="spacingAndGlyphs">C</text>
  <text x="408.9" y="153.2" textLength="13.0" lengthAdjust="spacingAndGlyphs">R</text>
  <text x="423.9" y="153.2" textLength="12.5" lengthAdjust="spacingAndGlyphs">E</text>
 </g>
 <path fill="#1a1a1a" fill-rule="evenodd" d="M391.35,145.2 a8.2,7.9 0 1,0 16.4,0 a8.2,7.9 0 1,0 -16.4,0 Z M394.15000000000003,145.2 a5.4,5.6 0 1,0 10.8,0 a5.4,5.6 0 1,0 -10.8,0 Z"/>
 <line x1="399.5" y1="133.8" x2="399.5" y2="156.8" stroke="#1a1a1a" stroke-width="1.4"/>
 <line x1="388" y1="145.2" x2="410.5" y2="145.2" stroke="#1a1a1a" stroke-width="1.4"/>
</svg>
<div class="box lg">
 <div class="sw c15" style="top:0.4px"></div>
 <div class="sw c10" style="top:11.35px"></div>
 <div class="sw c5" style="top:22.3px"></div>
 <div class="sw c3" style="top:33.25px"></div>
 <div class="sw c2" style="top:44.2px"></div>
 <div class="sw c1" style="top:55.15px"></div>
 <div class="sw c0" style="top:66.1px"></div>
 <div class="t" style="top:0.4px">15% and over</div>
 <div class="t" style="top:11.35px">10%&ndash;14%</div>
 <div class="t" style="top:22.3px">5%&ndash;9%</div>
 <div class="t" style="top:33.25px">3%&ndash;4%</div>
 <div class="t" style="top:44.2px">2%</div>
 <div class="t" style="top:55.15px">1%</div>
 <div class="t" style="top:66.1px">&lt; 1%</div>
</div>
<div class="box" style="left:361.4px;top:263.3px;width:77.6px;height:52px;font-weight:bold;font-size:9.5px;line-height:12px;padding-top:0.7px">
 <div style="letter-spacing:0.25px">10-year risk of</div>
 <div style="letter-spacing:0.3px;font-size:9.7px">fatal CVD in</div>
 <div style="letter-spacing:0.3px;margin-top:0.4px">populations at</div>
 <div style="letter-spacing:0.45px;font-size:9.9px;margin-top:-0.2px">low CVD risk</div>
</div>
<div style="position:absolute;left:361.8px;top:326px;font-size:9.9px;letter-spacing:-0.15px;line-height:12px;color:#808080;white-space:nowrap"><span style="font-size:11.5px;line-height:10px;position:relative;top:0.6px">&copy;</span> ESC 2007</div>
<div class="box" style="left:136.1px;top:365.9px;width:119px;height:28px;font-weight:bold;font-size:9.3px;line-height:12px;padding-top:1.3px;letter-spacing:0.36px">
 <div style="margin-left:-1px">Total cholesterol: HDL</div>
 <div style="margin-left:-3.5px">Cholesterol ratio</div>
</div>
</body></html>
